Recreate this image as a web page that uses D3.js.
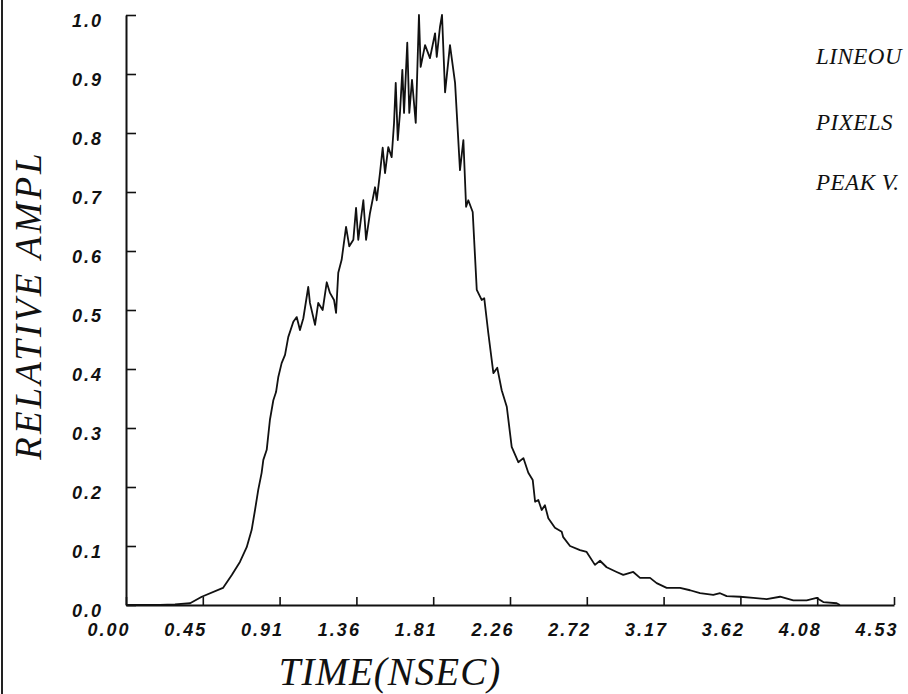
<!DOCTYPE html>
<html>
<head>
<meta charset="utf-8">
<script src="https://cdn.jsdelivr.net/npm/d3@7"></script>
<style>
  html, body { margin: 0; padding: 0; background: #fff; }
  svg { display: block; }
</style>
</head>
<body>
<div id="chart"></div>
<script>
// Lineout trace
const timeNs = [
  0.000, 0.200, 0.289, 0.378, 0.447, 0.572, 0.624, 0.672, 0.712, 0.741,
  0.761, 0.780, 0.800, 0.810, 0.830, 0.849, 0.869, 0.885, 0.898, 0.918,
  0.938, 0.957, 0.987, 1.007, 1.026, 1.046, 1.075, 1.085, 1.115, 1.134,
  1.160, 1.184, 1.203, 1.227, 1.239, 1.252, 1.272, 1.298, 1.317, 1.341,
  1.357, 1.370, 1.400, 1.416, 1.439, 1.469, 1.479, 1.498, 1.514, 1.528,
  1.547, 1.567, 1.581, 1.591, 1.603, 1.616, 1.630, 1.640, 1.659, 1.671,
  1.687, 1.709, 1.728, 1.738, 1.764, 1.793, 1.823, 1.833, 1.852, 1.864,
  1.882, 1.911, 1.941, 1.970, 1.990, 2.006, 2.019, 2.045, 2.069, 2.098,
  2.113, 2.137, 2.167, 2.190, 2.216, 2.246, 2.275, 2.314, 2.344, 2.373,
  2.399, 2.413, 2.432, 2.452, 2.471, 2.491, 2.530, 2.570, 2.579, 2.619,
  2.678, 2.717, 2.766, 2.796, 2.835, 2.894, 2.933, 2.992, 3.032, 3.091,
  3.130, 3.189, 3.268, 3.327, 3.386, 3.464, 3.504, 3.543, 3.622, 3.700,
  3.779, 3.858, 3.936, 4.015, 4.074, 4.113, 4.192, 4.211
];
const relAmpl = [
  0.000, 0.000, 0.001, 0.003, 0.014, 0.029, 0.051, 0.073, 0.098, 0.127,
  0.161, 0.195, 0.224, 0.246, 0.263, 0.314, 0.347, 0.361, 0.386, 0.410,
  0.424, 0.454, 0.480, 0.488, 0.466, 0.486, 0.539, 0.512, 0.475, 0.512,
  0.500, 0.547, 0.529, 0.517, 0.495, 0.563, 0.585, 0.641, 0.608, 0.619,
  0.673, 0.619, 0.686, 0.619, 0.664, 0.708, 0.686, 0.732, 0.775, 0.732,
  0.776, 0.759, 0.817, 0.885, 0.788, 0.834, 0.907, 0.834, 0.953, 0.834,
  0.890, 0.817, 1.000, 0.912, 0.949, 0.927, 0.969, 0.929, 0.980, 1.000,
  0.869, 0.949, 0.885, 0.737, 0.788, 0.675, 0.686, 0.666, 0.534, 0.517,
  0.520, 0.461, 0.393, 0.402, 0.364, 0.336, 0.268, 0.242, 0.249, 0.224,
  0.212, 0.175, 0.178, 0.161, 0.169, 0.147, 0.131, 0.124, 0.115, 0.100,
  0.093, 0.090, 0.068, 0.075, 0.064, 0.056, 0.051, 0.056, 0.046, 0.046,
  0.037, 0.029, 0.029, 0.025, 0.020, 0.017, 0.020, 0.015, 0.014, 0.012,
  0.010, 0.014, 0.008, 0.008, 0.012, 0.005, 0.003, 0.000
];

const xTickValues = [0, 0.453, 0.906, 1.359, 1.812, 2.265, 2.718, 3.171, 3.624, 4.077, 4.53];
const xTickLabels = ["0.00", "0.45", "0.91", "1.36", "1.81", "2.26", "2.72", "3.17", "3.62", "4.08", "4.53"];
const yTickValues = [0, 0.1, 0.2, 0.3, 0.4, 0.5, 0.6, 0.7, 0.8, 0.9, 1.0];
const yTickLabels = ["0.0", "0.1", "0.2", "0.3", "0.4", "0.5", "0.6", "0.7", "0.8", "0.9", "1.0"];

const sideNotes = ["LINEOU", "PIXELS", "PEAK V."];

const data = timeNs.map((t, i) => ({ t: t, a: relAmpl[i] }));

const width = 908, height = 694;
const plot = { left: 126, right: 894, top: 15, bottom: 605 };

const svg = d3.select("#chart")
    .append("svg")
    .attr("width", width)
    .attr("height", height);

const x = d3.scaleLinear().domain([0, 4.53]).range([plot.left, plot.right]);
const y = d3.scaleLinear().domain([0, 1]).range([plot.bottom, plot.top]);

const tickFont = "'Liberation Sans', Arial, sans-serif";
const titleFont = "'Liberation Serif', 'Times New Roman', serif";

// scan edge on the left
svg.append("line")
    .attr("x1", 2).attr("x2", 2)
    .attr("y1", 0).attr("y2", height)
    .attr("stroke", "#222")
    .attr("stroke-width", 2);

// X axis, ticks pointing up into the plot
const gx = svg.append("g")
    .attr("transform", `translate(0,${plot.bottom})`)
    .call(d3.axisBottom(x)
        .tickValues(xTickValues)
        .tickFormat((d, i) => xTickLabels[i])
        .tickSizeInner(-8)
        .tickSizeOuter(0));

// Y axis, ticks pointing right
const gy = svg.append("g")
    .attr("transform", `translate(${plot.left},0)`)
    .call(d3.axisLeft(y)
        .tickValues(yTickValues)
        .tickFormat((d, i) => yTickLabels[i])
        .tickSizeInner(-10)
        .tickSizeOuter(0));

[gx, gy].forEach(g => {
    g.attr("font-family", null).attr("font-size", null);
    g.select(".domain").attr("stroke", "#111").attr("stroke-width", 2);
    g.selectAll(".tick line").attr("stroke", "#111").attr("stroke-width", 1.6);
    g.selectAll(".tick text")
        .attr("fill", "#111")
        .style("font-family", tickFont)
        .style("font-style", "italic")
        .style("font-weight", "bold")
        .style("font-size", "18px")
        .style("letter-spacing", "2px");
});

gx.selectAll(".tick text")
    .attr("text-anchor", "end")
    .attr("x", 4)
    .attr("y", 31)
    .attr("dy", null);

gy.selectAll(".tick text")
    .attr("text-anchor", "end")
    .attr("x", -23)
    .attr("dy", null)
    .attr("y", 11);

// the trace
const line = d3.line()
    .x(d => x(d.t))
    .y(d => y(d.a));

svg.append("path")
    .datum(data)
    .attr("fill", "none")
    .attr("stroke", "#111")
    .attr("stroke-width", 1.8)
    .attr("stroke-linejoin", "round")
    .attr("d", line);

// Axis titles
svg.append("text")
    .attr("transform", "translate(41,305) rotate(-90)")
    .attr("text-anchor", "middle")
    .style("font-family", titleFont)
    .style("font-style", "italic")
    .style("font-size", "37px")
    .style("letter-spacing", "3px")
    .attr("fill", "#111")
    .text("RELATIVE AMPL");

svg.append("text")
    .attr("x", 390)
    .attr("y", 685)
    .attr("text-anchor", "middle")
    .style("font-family", titleFont)
    .style("font-style", "italic")
    .style("font-size", "39px")
    .style("letter-spacing", "1px")
    .attr("fill", "#111")
    .text("TIME(NSEC)");

// notes on the right, next to the page edge
svg.selectAll(".note")
    .data(sideNotes)
    .enter()
    .append("text")
    .attr("class", "note")
    .attr("x", 816)
    .attr("y", (d, i) => [64, 130, 190][i])
    .style("font-family", titleFont)
    .style("font-style", "italic")
    .style("font-size", "23px")
    .style("letter-spacing", "0.5px")
    .attr("fill", "#111")
    .text(d => d);
</script>
</body>
</html>
